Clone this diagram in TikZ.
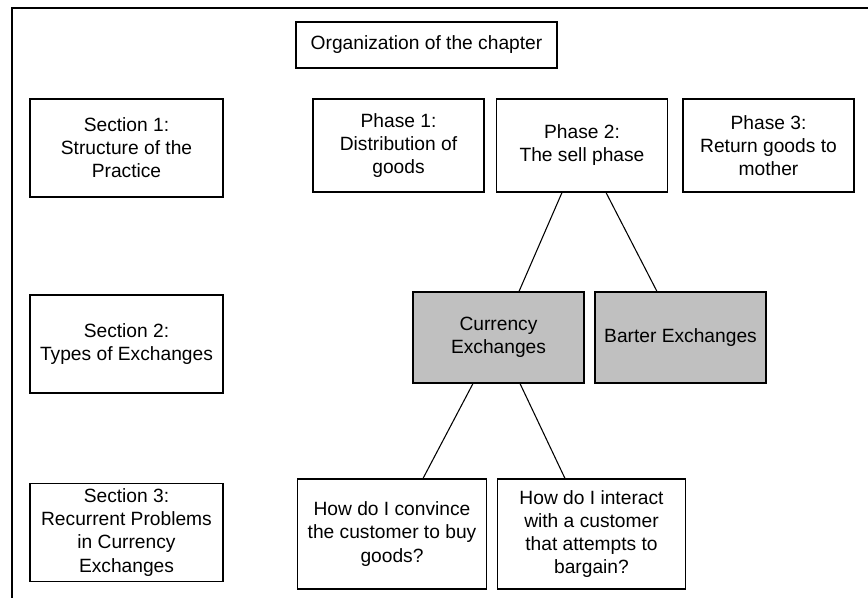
\documentclass[tikz,border=0pt]{standalone}
\usepackage{fontspec}
\setmainfont{Liberation Sans}
\usetikzlibrary{calc}

\definecolor{boxgray}{RGB}{192,192,192}

\tikzset{
  box/.style={draw, line width=0.8pt, align=center, inner sep=2pt,
    font=\fontsize{14.4}{17.3}\selectfont},
  secbox/.style={box, minimum width=144.75pt, minimum height=73.5pt},
  phasebox/.style={box, minimum width=128.25pt, minimum height=69.75pt},
  typebox/.style={box, fill=boxgray, minimum width=128.25pt, minimum height=68.25pt},
  qbox/.style={box, minimum width=141.5pt, minimum height=82.5pt},
}

\begin{document}
\begin{tikzpicture}[x=0.75pt, y=-0.75pt]
  \fill[white] (0,0) rectangle (868,598);
  \useasboundingbox (0,0) rectangle (868,598);
  % outer frame
  \draw[line width=0.8pt] (868,8) -- (12,8) -- (12,598);

  \node[box, minimum width=195.75pt, minimum height=34.5pt] (chapter) at (426.5,45)
    {Organization of the chapter};

  % sections
  \node[secbox] (secone) at (126.5,148) {Section 1:\\Structure of the\\Practice};
  \node[secbox] (sectwo) at (126.5,344) {Section 2:\\Types of Exchanges};
  \node[secbox] (secthree) at (126.5,532.5)
    {Section 3:\\Recurrent Problems\\in Currency\\Exchanges};

  % phases
  \node[phasebox] (phaseone) at (398.5,145.5) {Phase 1:\\Distribution of\\goods};
  \node[phasebox] (phasetwo) at (582,145.5) {Phase 2:\\The sell phase};
  \node[phasebox] (phasethree) at (768.5,145.5) {Phase 3:\\Return goods to\\mother};

  % exchanges
  \node[typebox] (currency) at (498.5,337.5) {Currency\\Exchanges};
  \node[typebox] (barter) at (680.5,337.5) {Barter Exchanges};

  % problems
  \node[qbox] (convince) at (392,534)
    {How do I convince\\the customer to buy\\goods?};
  \node[qbox] (bargain) at (591.5,534)
    {How do I interact\\with a customer\\that attempts to\\bargain?};

  \draw[line width=0.8pt] ($(phasetwo.south)+(-20,0)$) -- ($(currency.north)+(20.5,0)$);
  \draw[line width=0.8pt] ($(phasetwo.south)+(24,0)$) -- ($(barter.north)+(-23.5,0)$);
  \draw[line width=0.8pt] ($(currency.south)+(-25.5,0)$) -- ($(convince.north)+(31,0)$);
  \draw[line width=0.8pt] ($(currency.south)+(21.5,0)$) -- ($(bargain.north)+(-26.5,0)$);
\end{tikzpicture}
\end{document}
